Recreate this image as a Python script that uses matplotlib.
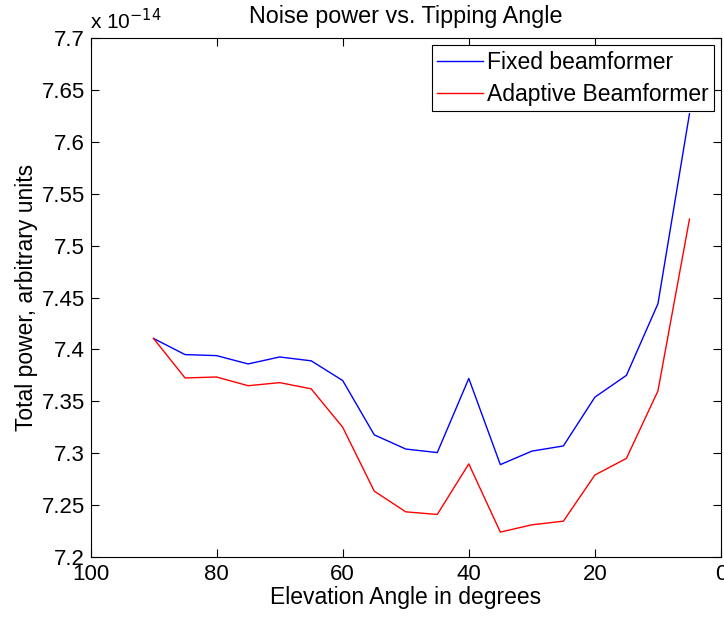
import matplotlib
matplotlib.use("Agg")
import matplotlib.pyplot as plt

plt.rcParams['font.family'] = ['Liberation Sans', 'DejaVu Sans']

angles = [90, 85, 80, 75, 70, 65, 60, 55, 50, 45, 40, 35, 30, 25, 20, 15, 10, 5]
fixed = [7.4105, 7.395, 7.394, 7.386, 7.3927, 7.389, 7.370, 7.3177, 7.304, 7.3006,
         7.372, 7.289, 7.302, 7.307, 7.354, 7.375, 7.444, 7.627]
adaptive = [7.4105, 7.3725, 7.3734, 7.365, 7.368, 7.362, 7.325, 7.2635, 7.2435, 7.241,
            7.2897, 7.224, 7.231, 7.2345, 7.279, 7.295, 7.360, 7.5256]
xticks = [100, 80, 60, 40, 20, 0]
yticks = [7.2, 7.25, 7.3, 7.35, 7.4, 7.45, 7.5, 7.55, 7.6, 7.65, 7.7]
ytick_labels = ["7.2", "7.25", "7.3", "7.35", "7.4", "7.45", "7.5", "7.55", "7.6", "7.65", "7.7"]

fig = plt.figure(figsize=(7.24, 6.17), dpi=100)
ax = fig.add_axes([90.5/724, 1-557/617, (721-90.5)/724, (557-38)/617])
ax.plot(angles, fixed, color='#0000ff', lw=1.0, label='Fixed beamformer')
ax.plot(angles, adaptive, color='#ff0000', lw=1.0, label='Adaptive Beamformer')
ax.set_xlim(100, 0)
ax.set_ylim(7.2, 7.7)
ax.set_xticks(xticks)
ax.set_xticklabels([str(t) for t in xticks])
ax.set_yticks(yticks)
ax.set_yticklabels(ytick_labels)
ax.tick_params(direction='in', top=True, right=True, labelsize=16, length=6, width=0.8)
ax.tick_params(axis='x', pad=5)
ax.tick_params(axis='y', pad=4)
for s in ax.spines.values():
    s.set_linewidth(0.8)
ax.set_xlabel('Elevation Angle in degrees', fontsize=16.5, labelpad=1)
ax.set_ylabel('Total power, arbitrary units', fontsize=16.5, labelpad=3)
ax.set_title('Noise power vs. Tipping Angle', fontsize=16.8, pad=11)
ax.text(0.0, 1.01, r'x 10$^{-14}$', transform=ax.transAxes, fontsize=15, ha='left', va='bottom')
leg = ax.legend(loc='upper right', fontsize=16.5, fancybox=False, framealpha=1,
                edgecolor='black', borderaxespad=0.3, handlelength=2.0, handletextpad=0.15,
                borderpad=0.25, labelspacing=0.4)
leg.get_frame().set_linewidth(0.8)
fig.savefig('out.png', dpi=100)
